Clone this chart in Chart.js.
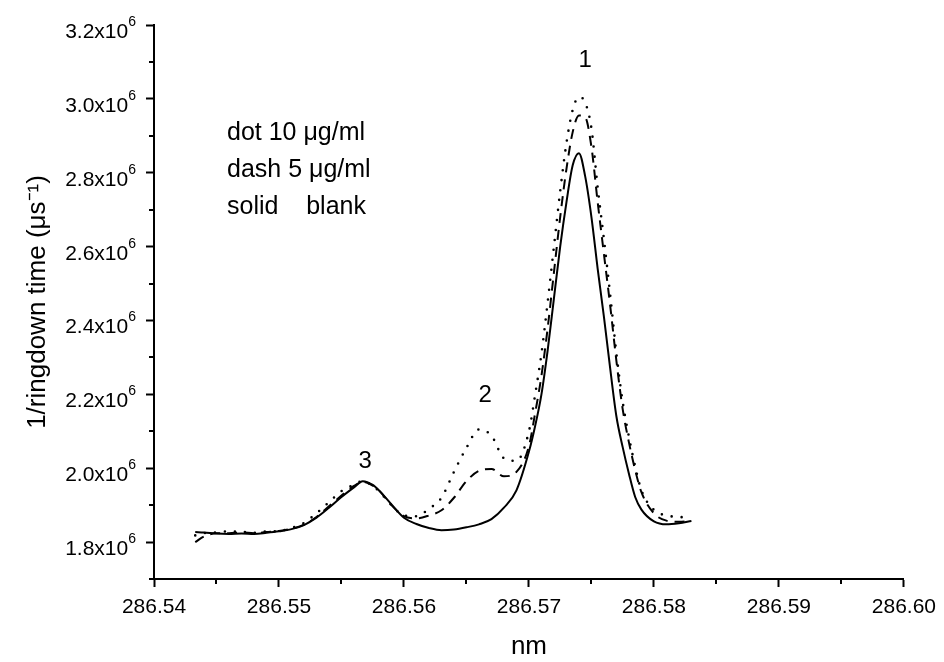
<!DOCTYPE html>
<html>
<head>
<meta charset="utf-8">
<title>1/ringdown time vs wavelength</title>
<script src="https://cdn.jsdelivr.net/npm/chart.js@4.4.1/dist/chart.umd.min.js"></script>
<style>
  html, body { margin: 0; padding: 0; background: #fff; }
  #chart { display: block; }
</style>
</head>
<body>
<canvas id="chart" width="944" height="662"></canvas>
<script>
// wavelength, nm
const wavelength = [
  286.5433, 286.544, 286.545, 286.546, 286.547, 286.548, 286.549, 286.550, 286.551, 286.552,
  286.553, 286.554, 286.555, 286.556, 286.5567, 286.5575, 286.558, 286.559, 286.560, 286.561,
  286.562, 286.563, 286.564, 286.565, 286.566, 286.567, 286.568, 286.569, 286.570, 286.5705,
  286.571, 286.5715, 286.572, 286.5725, 286.573, 286.5735, 286.574, 286.5745, 286.575, 286.5755,
  286.576, 286.5765, 286.577, 286.5775, 286.578, 286.5785, 286.579, 286.580, 286.581, 286.582,
  286.583
];

// solid line: blank
const blank = [
  1.827e6, 1.826e6, 1.823e6, 1.822e6, 1.823e6, 1.822e6, 1.825e6, 1.829e6, 1.835e6, 1.846e6,
  1.866e6, 1.893e6, 1.922e6, 1.948e6, 1.965e6, 1.955e6, 1.940e6, 1.902e6, 1.866e6, 1.849e6,
  1.838e6, 1.832e6, 1.834e6, 1.840e6, 1.848e6, 1.862e6, 1.893e6, 1.940e6, 2.045e6, 2.115e6,
  2.200e6, 2.320e6, 2.460e6, 2.600e6, 2.720e6, 2.820e6, 2.853e6, 2.790e6, 2.680e6, 2.540e6,
  2.410e6, 2.270e6, 2.140e6, 2.057e6, 1.985e6, 1.922e6, 1.888e6, 1.856e6, 1.848e6, 1.851e6,
  1.857e6
];

// dashed line: 5 ug/ml
const dash5 = [
  1.800e6, 1.815e6, 1.824e6, 1.824e6, 1.826e6, 1.824e6, 1.827e6, 1.830e6, 1.836e6, 1.847e6,
  1.868e6, 1.897e6, 1.926e6, 1.952e6, 1.963e6, 1.953e6, 1.940e6, 1.900e6, 1.870e6, 1.864e6,
  1.872e6, 1.886e6, 1.920e6, 1.965e6, 1.993e6, 1.998e6, 1.978e6, 1.990e6, 2.060e6, 2.150e6,
  2.250e6, 2.380e6, 2.530e6, 2.680e6, 2.810e6, 2.910e6, 2.955e6, 2.950e6, 2.870e6, 2.720e6,
  2.580e6, 2.440e6, 2.290e6, 2.160e6, 2.070e6, 1.995e6, 1.935e6, 1.878e6, 1.858e6, 1.855e6,
  1.858e6
];

// dotted line: 10 ug/ml
const dot10 = [
  1.818e6, 1.824e6, 1.826e6, 1.829e6, 1.828e6, 1.825e6, 1.829e6, 1.830e6, 1.838e6, 1.852e6,
  1.878e6, 1.908e6, 1.938e6, 1.955e6, 1.965e6, 1.952e6, 1.938e6, 1.900e6, 1.872e6, 1.870e6,
  1.890e6, 1.920e6, 1.990e6, 2.055e6, 2.105e6, 2.088e6, 2.027e6, 2.020e6, 2.100e6, 2.200e6,
  2.310e6, 2.450e6, 2.600e6, 2.750e6, 2.880e6, 2.970e6, 3.005e6, 2.990e6, 2.920e6, 2.760e6,
  2.620e6, 2.470e6, 2.310e6, 2.180e6, 2.085e6, 2.005e6, 1.940e6, 1.887e6, 1.872e6, 1.868e6,
  1.866e6
];

const xTickValues = [286.54, 286.55, 286.56, 286.57, 286.58, 286.59, 286.60];
const xTickLabels = ['286.54', '286.55', '286.56', '286.57', '286.58', '286.59', '286.60'];
const yTickValues = [1.8e6, 2.0e6, 2.2e6, 2.4e6, 2.6e6, 2.8e6, 3.0e6, 3.2e6];
const yTickLabels = ['1.8x10', '2.0x10', '2.2x10', '2.4x10', '2.6x10', '2.8x10', '3.0x10', '3.2x10'];
const yTickPower = '6';

const peakNames = ['1', '2', '3'];
const legendLines = ['dot 10 \u03bcg/ml', 'dash 5 \u03bcg/ml', 'solid    blank'];

const FONT = "'Liberation Sans', Arial, Helvetica, sans-serif";

function labelFor(values, labels, v, eps) {
    const i = values.findIndex(t => Math.abs(t - v) < eps);
    return i < 0 ? '' : labels[i];
}
const isMajorX = v => labelFor(xTickValues, xTickLabels, v, 1e-5) !== '';
const isMajorY = v => labelFor(yTickValues, yTickLabels, v, 1) !== '';

// short minor ticks (chart.js only has one tick length) + y labels with a raised power
const axisExtras = {
    id: 'axisExtras',
    afterDraw(chart) {
        const { ctx, scales: { x, y } } = chart;
        ctx.save();
        ctx.strokeStyle = '#000';
        ctx.lineWidth = 2;
        ctx.beginPath();
        x.ticks.forEach(t => {
            if (isMajorX(t.value)) return;
            const px = Math.round(x.getPixelForValue(t.value));
            ctx.moveTo(px, y.bottom);
            ctx.lineTo(px, y.bottom + 5);
        });
        y.ticks.forEach(t => {
            if (isMajorY(t.value)) return;
            const py = Math.round(y.getPixelForValue(t.value));
            ctx.moveTo(x.left, py);
            ctx.lineTo(x.left - 5, py);
        });
        ctx.stroke();

        ctx.fillStyle = '#000';
        ctx.textBaseline = 'alphabetic';
        ctx.textAlign = 'right';
        const right = 136;
        yTickValues.forEach((v, i) => {
            const py = y.getPixelForValue(v);
            ctx.font = '14px ' + FONT;
            const supW = ctx.measureText(yTickPower).width;
            ctx.fillText(yTickPower, right, py + 1);
            ctx.font = '21px ' + FONT;
            ctx.fillText(yTickLabels[i], right - supW, py + 13);
        });
        ctx.restore();
    }
};

// peak numbers and the line-style key
const notes = {
    id: 'notes',
    afterDatasetsDraw(chart) {
        const { ctx, scales: { x, y } } = chart;
        const peakAt = [[286.5745, 3.105e6], [286.5665, 2.197e6], [286.5569, 2.018e6]];
        ctx.save();
        ctx.fillStyle = '#000';
        ctx.font = '24px ' + FONT;
        ctx.textAlign = 'center';
        ctx.textBaseline = 'middle';
        peakNames.forEach((name, i) => {
            ctx.fillText(name, x.getPixelForValue(peakAt[i][0]), y.getPixelForValue(peakAt[i][1]));
        });
        ctx.font = '25px ' + FONT;
        ctx.textAlign = 'left';
        ctx.textBaseline = 'alphabetic';
        legendLines.forEach((line, i) => ctx.fillText(line, 227, 140 + i * 37));
        ctx.restore();
    }
};

const series = (vals) => vals.map((v, i) => ({ x: wavelength[i], y: v }));

new Chart(document.getElementById('chart'), {
    type: 'line',
    data: {
        datasets: [
            {
                label: 'blank',
                data: series(blank),
                borderColor: '#000',
                borderWidth: 2,
                pointRadius: 0,
                cubicInterpolationMode: 'monotone'
            },
            {
                label: '5 \u03bcg/ml',
                data: series(dash5),
                borderColor: '#000',
                borderWidth: 2,
                borderDash: [10, 7],
                pointRadius: 0,
                cubicInterpolationMode: 'monotone'
            },
            {
                label: '10 \u03bcg/ml',
                data: series(dot10),
                borderColor: '#000',
                borderWidth: 2.6,
                borderDash: [0, 10],
                borderCapStyle: 'round',
                pointRadius: 0,
                cubicInterpolationMode: 'monotone'
            }
        ]
    },
    options: {
        responsive: false,
        animation: false,
        devicePixelRatio: 1,
        layout: { padding: { left: 0, top: 25, right: 35, bottom: 0 } },
        plugins: {
            legend: { display: false },
            tooltip: { enabled: false }
        },
        scales: {
            x: {
                type: 'linear',
                min: 286.54,
                max: 286.60,
                afterFit: s => { s.height = 83; },
                border: { display: true, color: '#000', width: 2 },
                grid: {
                    drawOnChartArea: false,
                    drawTicks: true,
                    tickLength: 8,
                    tickWidth: 2,
                    tickColor: c => isMajorX(c.tick.value) ? '#000' : 'rgba(0,0,0,0)'
                },
                ticks: {
                    stepSize: 0.005,
                    autoSkip: false,
                    maxRotation: 0,
                    padding: 8,
                    color: '#000',
                    font: { family: FONT, size: 21 },
                    callback: v => labelFor(xTickValues, xTickLabels, v, 1e-5)
                },
                title: {
                    display: true,
                    text: 'nm',
                    color: '#000',
                    font: { family: FONT, size: 26 },
                    padding: { top: 0, bottom: 0 }
                }
            },
            y: {
                min: 1.7e6,
                max: 3.2e6,
                afterFit: s => { s.width = 154; },
                border: { display: true, color: '#000', width: 2 },
                grid: {
                    drawOnChartArea: false,
                    drawTicks: true,
                    tickLength: 8,
                    tickWidth: 2,
                    tickColor: c => isMajorY(c.tick.value) ? '#000' : 'rgba(0,0,0,0)'
                },
                ticks: {
                    stepSize: 0.1e6,
                    autoSkip: false,
                    display: false
                },
                title: {
                    display: true,
                    text: '1/ringdown time (\u03bcs\u207b\u00b9)',
                    color: '#000',
                    font: { family: FONT, size: 26 },
                    padding: { top: 22, bottom: 0 }
                }
            }
        }
    },
    plugins: [axisExtras, notes]
});
</script>
</body>
</html>
